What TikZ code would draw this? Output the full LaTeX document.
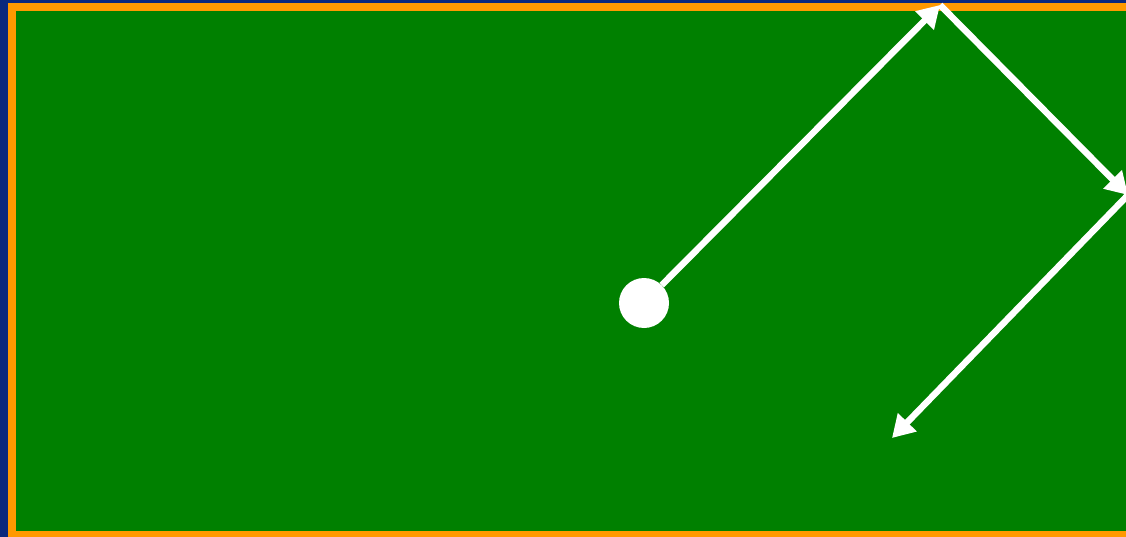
\documentclass[tikz,border=0pt]{standalone}
\usepackage{tikz}
\usetikzlibrary{arrows.meta,positioning,calc}
\definecolor{navybg}{RGB}{10,40,125}
\definecolor{fieldgreen}{RGB}{0,128,0}
\definecolor{rimorange}{RGB}{255,153,0}

\begin{document}
\begin{tikzpicture}[
  x=1pt, y=-1pt,
  ball/.style={circle, fill=white, minimum size=50pt, inner sep=0pt},
  path/.style={-{Triangle[length=22pt,width=25pt]}, white, line width=6.5pt}
]
\useasboundingbox (0,0) rectangle (1126,537);
\fill[navybg] (0,0) rectangle (1126,537);
\begin{scope}
  \clip (0,0) rectangle (1126,537);
  \draw[rimorange, fill=fieldgreen, line width=8pt] (12,7) rectangle (1150,535);
\end{scope}

\node[ball] (start) at (644,303) {};
\coordinate (hit1) at (940,5);
\coordinate (hit2) at (1128,195);
\coordinate (stop) at (892,438);

\draw[path] (start) -- (hit1);
\draw[path] (hit1) -- (hit2);
\draw[path] (hit2) -- (stop);
\end{tikzpicture}
\end{document}
